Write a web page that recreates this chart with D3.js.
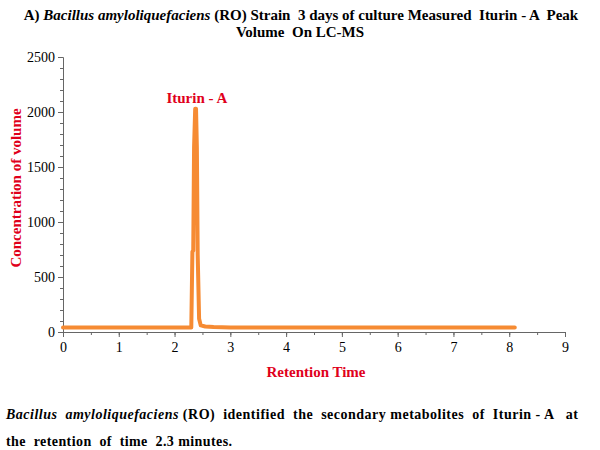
<!DOCTYPE html>
<html>
<head>
<meta charset="utf-8">
<script src="https://cdn.jsdelivr.net/npm/d3@7"></script>
<style>
  body { margin: 0; background: #fff; }
  svg { font-family: "Liberation Serif", "Times New Roman", serif; }
</style>
</head>
<body>
<svg id="chart" width="600" height="450"></svg>
<script>
// retention time (min) and concentration
const retentionTime = [0, 0.5, 1, 1.5, 2, 2.3, 2.32, 2.335, 2.35, 2.37, 2.385, 2.40, 2.415, 2.44, 2.47, 2.55, 2.7, 3, 4, 5, 6, 7, 8, 8.1];
const concentration = [40, 40, 40, 40, 40, 42, 730, 740, 1680, 2030, 2030, 1680, 700, 120, 60, 50, 45, 42, 40, 40, 40, 40, 40, 40];
const xTicks = [0, 1, 2, 3, 4, 5, 6, 7, 8, 9];
const yTicks = [0, 500, 1000, 1500, 2000, 2500];
const peakName = "Iturin - A";

const svg = d3.select('#chart');
const red = '#e0001b';
const orange = '#f68b33';
const axisGrey = '#666';
const serif = '"Liberation Serif", "Times New Roman", serif';

const x = d3.scaleLinear().domain([0, 9]).range([63, 565]);
const y = d3.scaleLinear().domain([0, 2500]).range([332, 57]);

// title
const title = svg.append('text')
  .attr('x', 301).attr('y', 20)
  .attr('text-anchor', 'middle')
  .attr('font-size', 15).attr('font-weight', 'bold')
  .attr('xml:space', 'preserve');
title.append('tspan').text('A) ');
title.append('tspan').attr('font-style', 'italic').text('Bacillus amyloliquefaciens');
title.append('tspan').text(' (RO) Strain  3 days of culture Measured  Iturin - A  Peak');
svg.append('text')
  .attr('x', 300).attr('y', 37)
  .attr('text-anchor', 'middle')
  .attr('font-size', 15).attr('font-weight', 'bold')
  .attr('xml:space', 'preserve')
  .text('Volume  On LC-MS');

// minor ticks first
svg.append('g')
  .attr('transform', `translate(${x(0)},0)`)
  .call(d3.axisLeft(y).tickValues(d3.range(0, 2501, 100)).tickSize(3).tickFormat(''))
  .call(g => g.select('.domain').remove());
svg.append('g')
  .attr('transform', `translate(0,${y(0)})`)
  .call(d3.axisBottom(x).tickValues(d3.range(0, 9.01, 0.5)).tickSize(3).tickFormat(''))
  .call(g => g.select('.domain').remove());

// major axes
svg.append('g')
  .attr('class', 'major')
  .attr('transform', `translate(${x(0)},0)`)
  .call(d3.axisLeft(y).tickValues(yTicks).tickSize(5).tickPadding(3).tickFormat(d3.format('d')));
svg.append('g')
  .attr('class', 'major')
  .attr('transform', `translate(0,${y(0)})`)
  .call(d3.axisBottom(x).tickValues(xTicks).tickSize(5).tickPadding(5).tickFormat(d3.format('d')));

svg.selectAll('.domain, .tick line').attr('stroke', axisGrey);
svg.selectAll('.major .tick text')
  .style('font-family', serif)
  .style('font-size', '14px')
  .style('fill', '#000');

// line
const line = d3.line()
  .x((d, i) => x(retentionTime[i]))
  .y(d => y(d));
svg.append('path')
  .datum(concentration)
  .attr('d', line)
  .attr('fill', 'none')
  .attr('stroke', orange)
  .attr('stroke-width', 4)
  .attr('stroke-linejoin', 'round')
  .attr('stroke-linecap', 'round');

// peak label
svg.append('text')
  .attr('x', x(2.4)).attr('y', y(2030) - 6)
  .attr('text-anchor', 'middle')
  .attr('font-size', 15).attr('font-weight', 'bold')
  .attr('fill', red)
  .text(peakName);

// axis titles
svg.append('text')
  .attr('x', 316).attr('y', 377)
  .attr('text-anchor', 'middle')
  .attr('font-size', 15).attr('font-weight', 'bold')
  .attr('fill', red)
  .text('Retention Time');
svg.append('text')
  .attr('transform', 'translate(21,188) rotate(-90)')
  .attr('text-anchor', 'middle')
  .attr('font-size', 15).attr('font-weight', 'bold')
  .attr('fill', red)
  .text('Concentration of volume');

// caption
const cap1 = svg.append('text')
  .attr('x', 6).attr('y', 419)
  .attr('font-size', 14).attr('font-weight', 'bold')
  .attr('xml:space', 'preserve')
  .attr('textLength', 572).attr('lengthAdjust', 'spacing');
cap1.append('tspan').attr('font-style', 'italic').text('Bacillus  amyloliquefaciens');
cap1.append('tspan').text(' (RO)  identified  the  secondary metabolites  of  Iturin - A   at');
svg.append('text')
  .attr('x', 6).attr('y', 446)
  .attr('font-size', 14).attr('font-weight', 'bold')
  .attr('xml:space', 'preserve')
  .attr('textLength', 226).attr('lengthAdjust', 'spacing')
  .text('the  retention  of  time  2.3 minutes.');
</script>
</body>
</html>
